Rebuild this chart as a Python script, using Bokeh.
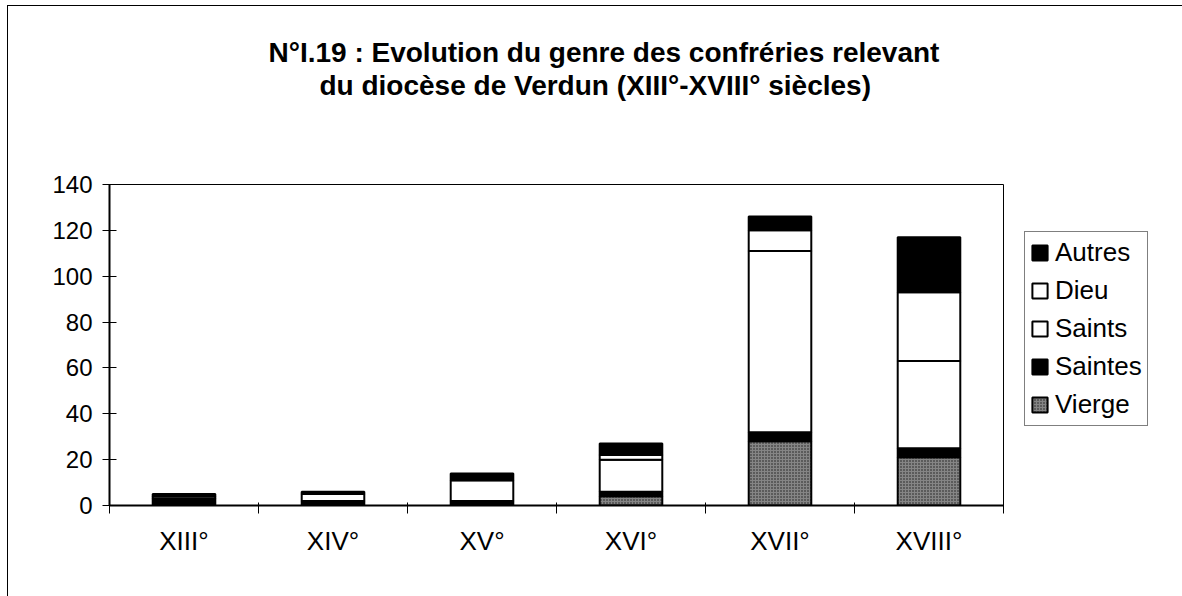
import numpy as np
from bokeh.plotting import figure
from bokeh.models import (Range1d, FixedTicker, Legend, LegendItem, Title)
from bokeh.embed import file_html
from bokeh.resources import INLINE

# ---- data ----
centuries = ["XIII°", "XIV°", "XV°", "XVI°", "XVII°", "XVIII°"]
vierge  = [0, 0, 0, 4, 28, 21]
saintes = [3, 2, 2, 2, 4, 4]
saints  = [1, 3, 9, 14, 79, 38]
dieu    = [0, 0, 0, 2, 9, 30]
autres  = [1, 1, 3, 5, 6, 24]
series_names = ["Vierge", "Saintes", "Saints", "Dieu", "Autres"]
y_ticks = [0, 20, 40, 60, 80, 100, 120, 140]
title_line1 = "N°I.19 : Evolution du genre des confréries relevant"
title_line2 = "du diocèse de Verdun (XIII°-XVIII° siècles)"

FONT = "Liberation Sans"

xpos = np.arange(len(centuries)) + 0.5
data = dict(x=xpos, Vierge=vierge, Saintes=saintes, Saints=saints, Dieu=dieu, Autres=autres)

p = figure(frame_width=894, frame_height=321, output_backend="svg", toolbar_location=None,
           x_range=Range1d(0, len(centuries)), y_range=Range1d(0, 140))
p.min_border_left = 101
p.min_border_right = 179
p.min_border_top = 178
p.min_border_bottom = 91
p.background_fill_color = "white"
p.border_fill_color = "white"
p.outline_line_color = "black"
p.outline_line_width = 1
p.grid.visible = False
p.styles = {"margin-left": "7px", "margin-top": "5px",
            "border-left": "1px solid black", "border-top": "1px solid black"}

fills = ["#858585", "black", "white", "white", "black"]
hatches = ["dot", None, None, None, None]
renderers = []
bottom = np.zeros(len(centuries))
for name, fc, hp in zip(series_names, fills, hatches):
    vals = np.array(data[name], dtype=float)
    kw = {}
    if hp:
        kw = dict(hatch_pattern=hp, hatch_color="#1a1a1a", hatch_scale=3, hatch_weight=1)
    r = p.vbar(x=xpos, width=0.42, bottom=bottom, top=bottom + vals,
               fill_color=fc, line_color="black", line_width=2, **kw)
    renderers.append(r)
    bottom = bottom + vals

# axes
xa = p.xaxis[0]
xa.ticker = FixedTicker(ticks=list(xpos), minor_ticks=list(range(len(centuries) + 1)))
xa.major_label_overrides = {float(x): c for x, c in zip(xpos, centuries)}
xa.major_tick_line_color = None
xa.major_tick_out = 0
xa.major_tick_in = 0
xa.minor_tick_line_color = "black"
xa.minor_tick_in = 3
xa.minor_tick_out = 8
xa.axis_line_color = "black"
xa.axis_line_width = 2
xa.major_label_text_font = FONT
xa.major_label_text_font_size = "26px"
xa.major_label_text_color = "black"
xa.major_label_standoff = 12

ya = p.yaxis[0]
ya.ticker = FixedTicker(ticks=y_ticks, minor_ticks=[])
ya.major_tick_in = 7
ya.major_tick_out = 7
ya.major_tick_line_color = "black"
ya.minor_tick_line_color = None
ya.axis_line_color = "black"
ya.axis_line_width = 2
ya.major_label_text_font = FONT
ya.major_label_text_font_size = "24px"
ya.major_label_text_color = "black"
ya.major_label_standoff = 10

# title (two lines) with a blank spacer between the title and the frame
spacer = Title(text=" ", align="left", text_font=FONT, text_font_size="28px",
               text_line_height=1.0, standoff=51)
t2 = Title(text=title_line2, align="left", offset=210,
           text_font=FONT, text_font_size="28px", text_font_style="bold",
           text_color="black", text_line_height=0.9, standoff=0)
t1 = Title(text=title_line1, align="left", offset=159,
           text_font=FONT, text_font_size="28px", text_font_style="bold",
           text_color="black", text_line_height=1.0, standoff=0)
p.add_layout(spacer, "above")
p.add_layout(t2, "above")
p.add_layout(t1, "above")

# legend
items = [LegendItem(label=n, renderers=[r]) for n, r in zip(series_names, renderers)][::-1]
legend = Legend(items=items, location=(21, 79), orientation="vertical")
legend.border_line_color = "black"
legend.border_line_width = 1
legend.background_fill_color = "white"
legend.background_fill_alpha = 1
legend.label_text_font = FONT
legend.label_text_font_size = "26px"
legend.label_text_color = "black"
legend.glyph_width = 19
legend.glyph_height = 19
legend.label_standoff = 6
legend.spacing = 7
legend.padding = 5
legend.margin = 0
legend.label_height = 26
p.add_layout(legend, "right")

open("out.html", "w").write(file_html(p, INLINE))
